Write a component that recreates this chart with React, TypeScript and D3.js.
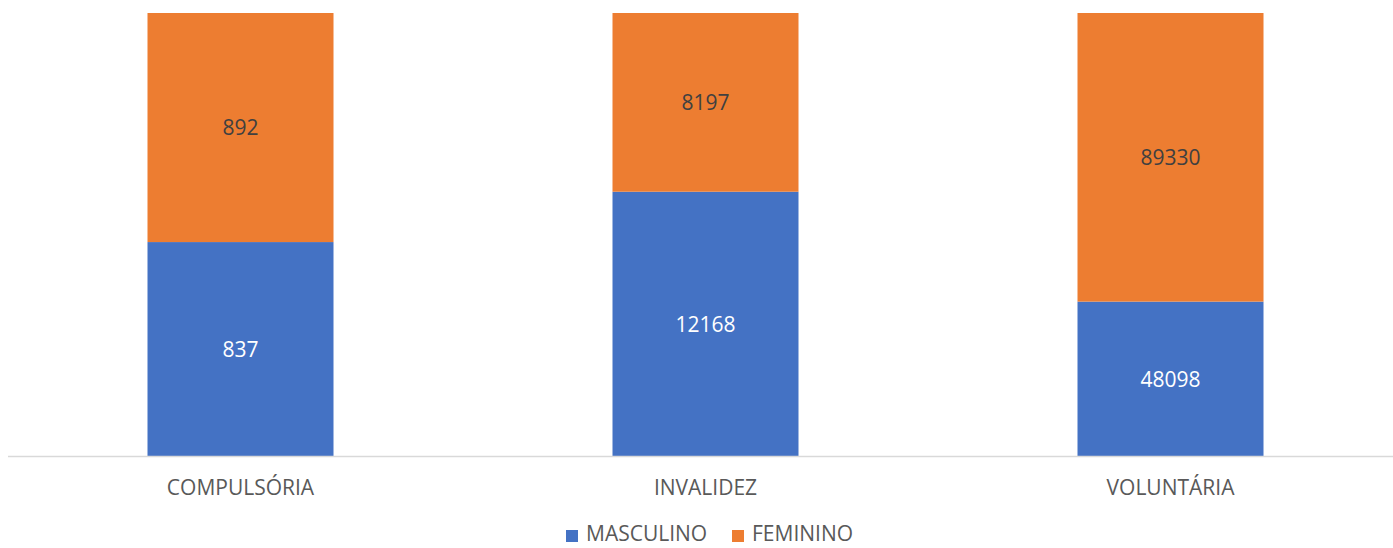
import * as d3 from 'd3';
import { useEffect, useRef } from 'react';

const categories = ['COMPULSÓRIA', 'INVALIDEZ', 'VOLUNTÁRIA'];
const masculino = [837, 12168, 48098];
const feminino = [892, 8197, 89330];
const seriesNames = ['MASCULINO', 'FEMININO'];
const seriesColors = ['#4472C4', '#ED7D31'];
const labelColors = ['#FFFFFF', '#404040'];

const W = 1393;
const H = 548;
const FONT = '"Open Sans", "Noto Sans", sans-serif';

const App = () => {
  const ref = useRef<SVGSVGElement | null>(null);

  useEffect(() => {
    const svg = d3.select(ref.current);
    svg.selectAll('*').remove();

    const rows = categories.map((c, i) => ({ cat: c, MASCULINO: masculino[i], FEMININO: feminino[i] }));
    const stacked = d3.stack<any>().keys(seriesNames).offset(d3.stackOffsetExpand)(rows);

    const x = d3.scaleBand().domain(categories).range([8, 1403]).paddingInner(0.6).paddingOuter(0.3);
    const y = d3.scaleLinear().domain([0, 1]).range([457, 13]);

    const g = svg.append('g');
    stacked.forEach((layer, si) => {
      const lg = g.append('g');
      lg.selectAll('rect')
        .data(layer)
        .enter()
        .append('rect')
        .attr('x', (d: any) => x(d.data.cat)!)
        .attr('y', (d) => y(d[1]))
        .attr('width', x.bandwidth())
        .attr('height', (d) => y(d[0]) - y(d[1]))
        .attr('fill', seriesColors[si]);
      lg.selectAll('text')
        .data(layer)
        .enter()
        .append('text')
        .attr('x', (d: any) => x(d.data.cat)! + x.bandwidth() / 2)
        .attr('y', (d) => (y(d[0]) + y(d[1])) / 2)
        .attr('dy', '0.35em')
        .attr('text-anchor', 'middle')
        .attr('font-family', FONT)
        .attr('font-size', 21)
        .attr('fill', labelColors[si])
        .text((d: any) => d.data[seriesNames[si]]);
    });

    svg.append('line')
      .attr('x1', 8)
      .attr('x2', W)
      .attr('y1', 456.5)
      .attr('y2', 456.5)
      .attr('stroke', '#D9D9D9')
      .attr('stroke-width', 1.5);

    svg.append('g')
      .selectAll('text')
      .data(categories)
      .enter()
      .append('text')
      .attr('x', (d) => x(d)! + x.bandwidth() / 2)
      .attr('y', 495)
      .attr('text-anchor', 'middle')
      .attr('font-family', FONT)
      .attr('font-size', 21)
      .attr('fill', '#595959')
      .text((d) => d);

    // legend sits right at the bottom edge, as in the original
    const legendX = [566, 732];
    const legend = svg.append('g')
      .selectAll('g')
      .data(seriesNames)
      .enter()
      .append('g')
      .attr('transform', (d, i) => 'translate(' + legendX[i] + ',0)');
    legend.append('rect')
      .attr('x', 0)
      .attr('y', 530)
      .attr('width', 12)
      .attr('height', 12)
      .attr('fill', (d, i) => seriesColors[i]);
    legend.append('text')
      .attr('x', 20)
      .attr('y', 541)
      .attr('font-family', FONT)
      .attr('font-size', 21)
      .attr('fill', '#595959')
      .text((d) => d);
  }, []);

  return (
    <svg
      ref={ref}
      width={W}
      height={H}
      style={{ position: 'absolute', left: 0, top: 0, background: '#fff' }}
    ></svg>
  );
};

export default App;
